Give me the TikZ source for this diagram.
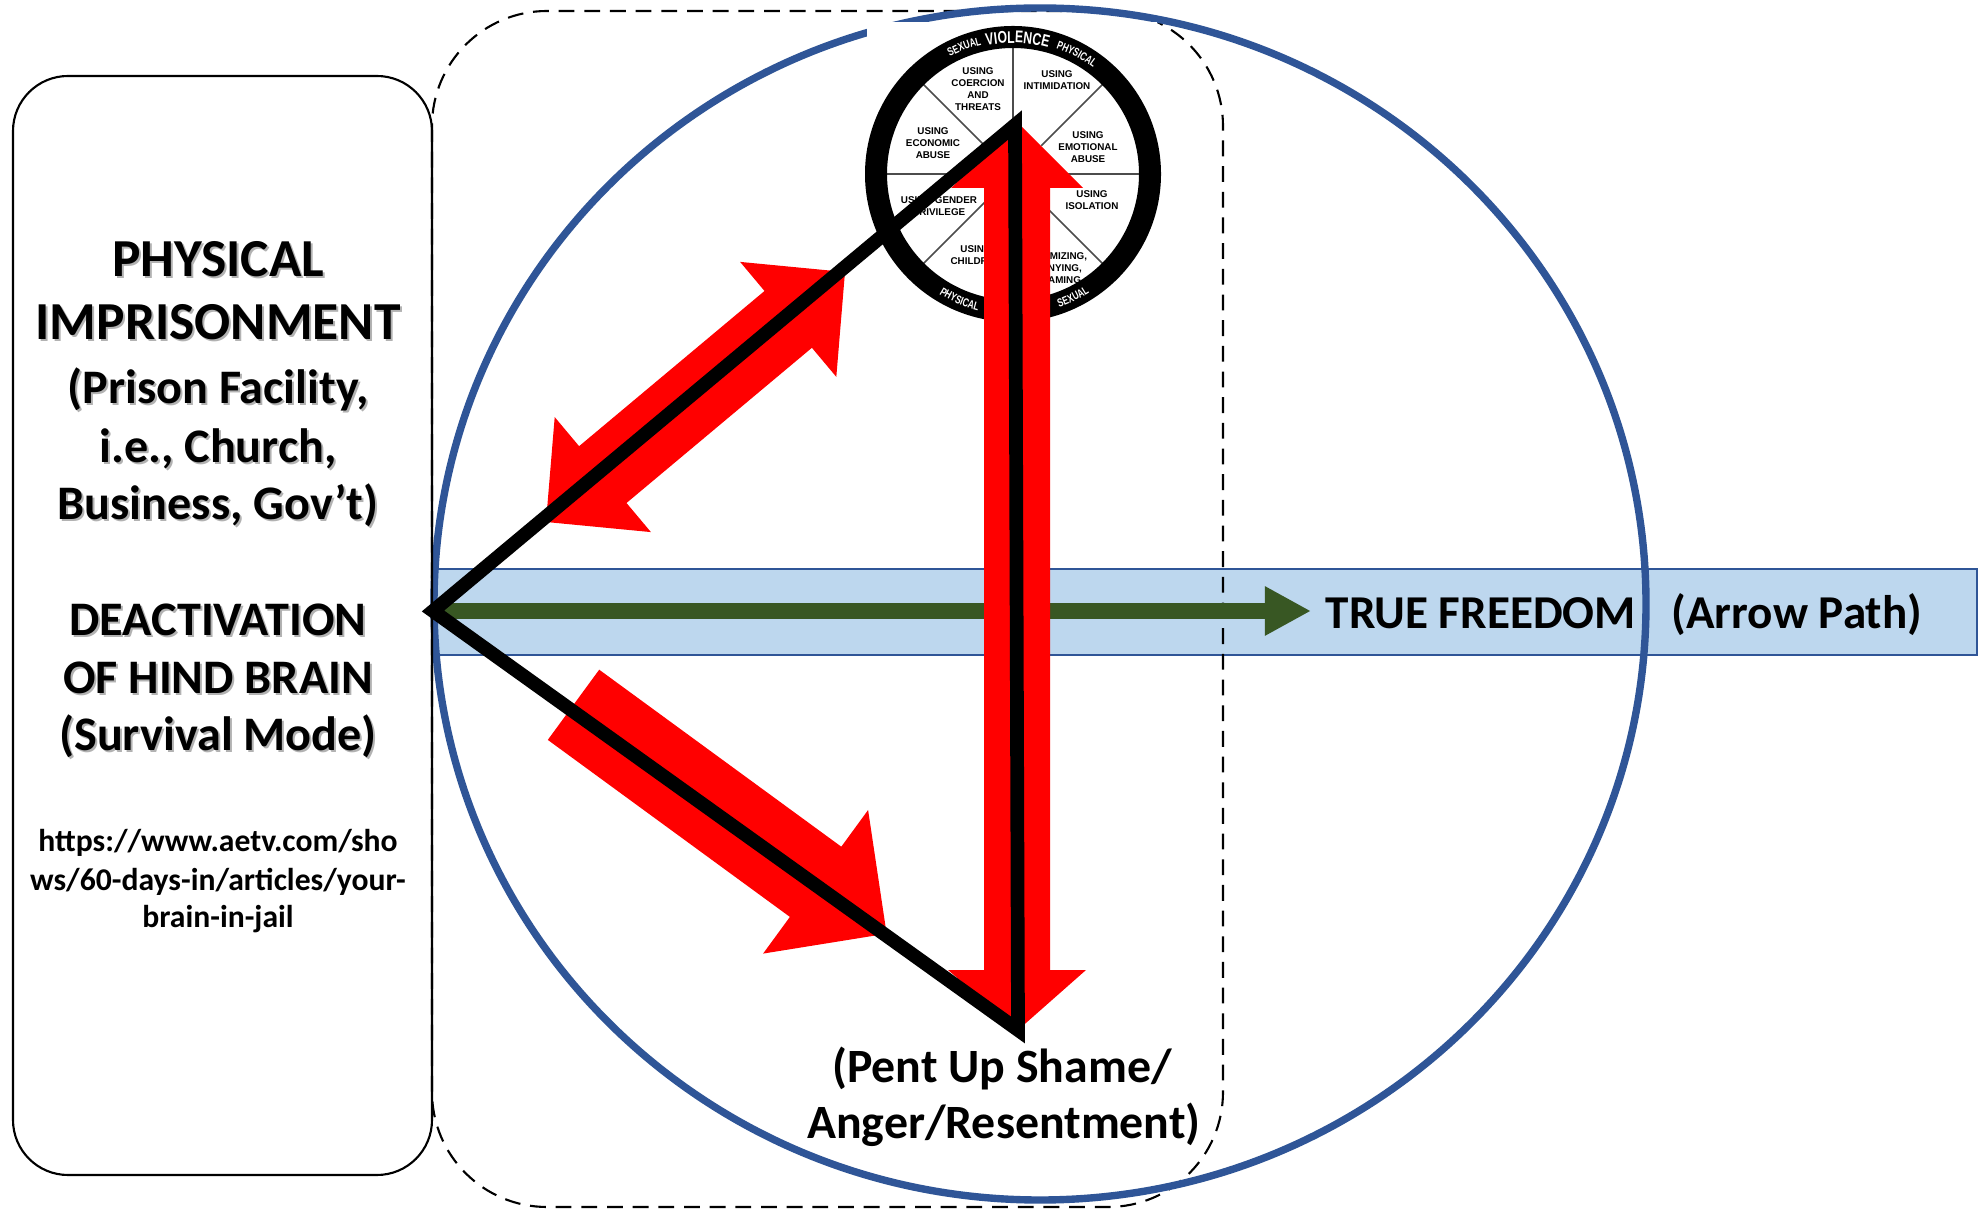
\documentclass[tikz,border=0pt]{standalone}
\usepackage{fontspec}
\setmainfont{Carlito}
\newfontfamily\wheelfont{Liberation Sans}
\newfontfamily\wheelnarrow{Liberation Sans}[FakeStretch=0.72]
\usetikzlibrary{arrows.meta,decorations.text}
\definecolor{circblue}{RGB}{47,85,151}
\definecolor{bandfill}{RGB}{189,215,238}
\definecolor{bandline}{RGB}{47,85,151}
\definecolor{arrgreen}{RGB}{56,87,35}
\definecolor{arrred}{RGB}{255,0,0}
\newcommand\ringbig{\wheelnarrow\bfseries\fontsize{4.8}{5}\selectfont\color{white}}
\newcommand\ringsmall{\wheelnarrow\bfseries\fontsize{3.3}{4}\selectfont\color{white}}
\newcommand\boxline[4]{%
  \node[#3, text=black!30] (#1s) at (220,#2+2) {#4};
  \node[#3] (#1) at (218,#2) {#4};}
\tikzset{
  bigtxt/.style={anchor=base, inner sep=0pt, font=\bfseries\fontsize{15.2}{17}\selectfont},
  medtxt/.style={anchor=base, inner sep=0pt, font=\bfseries\fontsize{13.7}{16}\selectfont},
  urltxt/.style={anchor=base, inner sep=0pt, font=\bfseries\fontsize{9}{11}\selectfont},
  midtxt/.style={anchor=base, inner sep=0pt, font=\bfseries\fontsize{13.6}{16}\selectfont},
  freetxt/.style={anchor=base west, inner sep=0pt, font=\bfseries\fontsize{13.4}{16}\selectfont},
  wheellbl/.style={align=center, inner sep=0pt, font=\wheelfont\bfseries\fontsize{2.8}{3.4}\selectfont},
  dashbox/.style={line width=0.6pt, dash pattern=on 4.5pt off 2.8pt, rounded corners=1.15cm},
  solidbox/.style={line width=0.6pt, rounded corners=0.55cm},
  tri/.style={line width=3.9pt, line join=miter},
  redshape/.style={fill=arrred},
}
\begin{document}
\begin{tikzpicture}[x=0.01cm, y=-0.01cm]
\useasboundingbox (0,0) rectangle (1985,1210);
\fill[white] (0,0) rectangle (1985,1210);

% blue band
\draw[fill=bandfill, draw=bandline, line width=0.57pt] (432,569) rectangle (1977,655);
% dashed frame
\draw[dashbox] (432,11) rectangle (1223,1207);
% blue circle
\draw[circblue, line width=2.1pt] (1040,604) ellipse [x radius=606, y radius=596];
% left box
\draw[solidbox] (13,76) rectangle (432,1175);

\coordinate (V1) at (433,611);
\coordinate (V2) at (1015,125);
\coordinate (V3) at (1018,1030);
\coordinate (G) at (1311,611);

% green arrow
\draw[arrgreen, line width=4.3pt, -{Triangle[length=13.1pt, width=13.1pt]}] (V1) -- (G);

% wheel picture
\begin{scope}[shift={(1013,174)}, y=0.01cm]
  \fill[white] (-146,152) rectangle (144,-153);
  \foreach \a in {0,45,...,315} \draw[black!70, line width=0.45pt] (\a:40) -- (\a:127);
  \draw[line width=6.26pt] (0,0) circle[radius=137];
  \node[wheellbl] (wCoer) at (-35,85) {USING\\COERCION\\AND\\THREATS};
  \node[wheellbl] (wIntim) at (44,94) {USING\\INTIMIDATION};
  \node[wheellbl] (wEcon) at (-80,31) {USING\\ECONOMIC\\ABUSE};
  \node[wheellbl] (wEmot) at (75,27) {USING\\EMOTIONAL\\ABUSE};
  \node[wheellbl] (wGend) at (-74,-32) {USING GENDER\\PRIVILEGE};
  \node[wheellbl] (wIsol) at (79,-26) {USING\\ISOLATION};
  \node[wheellbl] (wChild) at (-37,-81) {USING\\CHILDREN};
  \node[wheellbl] (wMin) at (45,-94) {MINIMIZING,\\DENYING,\\BLAMING};
  \path[decorate, decoration={text along path, text align=center, text={|\ringbig|VIOLENCE}}]
    (118:131) arc[start angle=118, end angle=58, radius=131];
  \path[decorate, decoration={text along path, text align=center, text={|\ringsmall|SEXUAL}}]
    (141:133) arc[start angle=141, end angle=81, radius=133];
  \path[decorate, decoration={text along path, text align=center, text={|\ringsmall|PHYSICAL}}]
    (92:133) arc[start angle=92, end angle=32, radius=133];
  \path[decorate, decoration={text along path, text align=center, text={|\ringsmall|PHYSICAL}}]
    (217:141) arc[start angle=217, end angle=277, radius=141];
  \path[decorate, decoration={text along path, text align=center, text={|\ringsmall|SEXUAL}}]
    (266:141) arc[start angle=266, end angle=326, radius=141];
\end{scope}

% red arrows
\fill[redshape] (1017,122) -- (1083,188) -- (1050,188) -- (1050,970) -- (1086,970) -- (1018,1030)
  -- (948,970) -- (984,970) -- (984,188) -- (951,188) -- cycle;
\fill[redshape] (546,522) -- (554.7,417.1) -- (579.1,446.2) -- (764.5,291.0) -- (740.1,261.9)
  -- (845,272) -- (836.3,376.9) -- (811.9,347.8) -- (626.5,503.0) -- (650.9,532.1) -- cycle;
\fill[redshape] (599.2,669.7) -- (841.3,846.7) -- (868.1,810.0) -- (886.6,933.7) -- (763.1,953.6)
  -- (789.9,916.9) -- (547.8,739.9) -- cycle;

% black triangle
\draw[tri] (V1) -- (V2) -- (V3) -- cycle;

% left box text
\boxline{t1}{277}{bigtxt}{PHYSICAL}
\boxline{t2}{340}{bigtxt}{IMPRISONMENT}
\boxline{t3}{404}{medtxt}{(Prison Facility,}
\boxline{t4}{463}{medtxt}{i.e., Church,}
\boxline{t5}{520}{medtxt}{Business, Gov’t)}
\boxline{t6}{636}{medtxt}{DEACTIVATION}
\boxline{t7}{694}{medtxt}{OF HIND BRAIN}
\boxline{t8}{751}{medtxt}{(Survival Mode)}
\node[urltxt] (u1) at (218,852) {https://www.aetv.com/sho};
\node[urltxt] (u2) at (218,891) {ws/60-days-in/articles/your-};
\node[urltxt] (u3) at (218,928) {brain-in-jail};

% other labels
\node[freetxt] (free) at (1325,629) {TRUE FREEDOM};
\node[freetxt] (path) at (1671,629) {(Arrow Path)};
\node[midtxt] (pent1) at (1002,1082) {(Pent Up Shame/};
\node[midtxt] (pent2) at (1004,1138) {Anger/Resentment)};
\end{tikzpicture}
\end{document}
